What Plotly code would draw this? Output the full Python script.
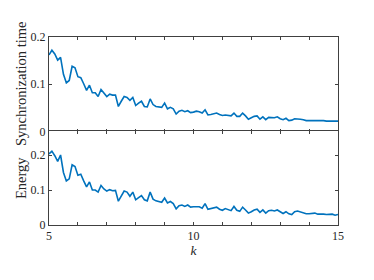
import numpy as np
import plotly.graph_objects as go

k = [round(5 + 0.1 * i, 1) for i in range(101)]

sync_time = [
    0.162, 0.172, 0.164, 0.151, 0.157, 0.121, 0.103, 0.108, 0.138, 0.135,
    0.116, 0.114, 0.101, 0.087, 0.098, 0.082, 0.082, 0.074, 0.089, 0.082,
    0.074, 0.079, 0.077, 0.077, 0.053, 0.064, 0.074, 0.072, 0.066, 0.072,
    0.055, 0.060, 0.064, 0.053, 0.052, 0.069, 0.057, 0.053, 0.052, 0.051,
    0.060, 0.048, 0.051, 0.048, 0.037, 0.043, 0.045, 0.042, 0.044, 0.040,
    0.041, 0.043, 0.042, 0.039, 0.046, 0.035, 0.036, 0.038, 0.039, 0.036,
    0.034, 0.035, 0.034, 0.033, 0.039, 0.032, 0.032, 0.039, 0.033, 0.026,
    0.029, 0.032, 0.033, 0.026, 0.031, 0.025, 0.030, 0.030, 0.029, 0.031,
    0.027, 0.025, 0.028, 0.023, 0.024, 0.027, 0.027, 0.026, 0.025, 0.023,
    0.023, 0.023, 0.024, 0.023, 0.023, 0.023, 0.022, 0.022, 0.022, 0.021,
    0.022,
]

energy = [
    0.203, 0.211, 0.198, 0.182, 0.200, 0.150, 0.126, 0.132, 0.172, 0.167,
    0.142, 0.145, 0.126, 0.109, 0.123, 0.100, 0.100, 0.094, 0.113, 0.103,
    0.097, 0.101, 0.098, 0.099, 0.068, 0.082, 0.097, 0.094, 0.082, 0.094,
    0.072, 0.078, 0.084, 0.072, 0.069, 0.094, 0.074, 0.069, 0.068, 0.065,
    0.077, 0.063, 0.067, 0.061, 0.046, 0.055, 0.057, 0.053, 0.057, 0.051,
    0.052, 0.053, 0.052, 0.048, 0.061, 0.045, 0.047, 0.049, 0.051, 0.045,
    0.042, 0.047, 0.043, 0.041, 0.053, 0.042, 0.039, 0.051, 0.043, 0.034,
    0.038, 0.043, 0.045, 0.036, 0.043, 0.034, 0.041, 0.042, 0.040, 0.043,
    0.038, 0.033, 0.038, 0.032, 0.030, 0.038, 0.040, 0.037, 0.036, 0.032,
    0.032, 0.032, 0.034, 0.031, 0.032, 0.031, 0.030, 0.030, 0.031, 0.028,
    0.030,
]

x_ticks = list(range(5, 16))
x_ticktext = ["5", "", "", "", "", "10", "", "", "", "", "15"]
y_ticks = [0, 0.1, 0.2]
y_ticktext = ["0", "0.1", "0.2"]

FONT = "Liberation Serif"
AX = "#404040"
TXT = "#262626"
LINE = "#0072BD"

H_PLOT = 188.0
W_PLOT = 289.0
half = 0.5 / H_PLOT
ytitle_x = -28.0 / W_PLOT

fig = go.Figure()
fig.add_trace(go.Scatter(x=k, y=sync_time, mode="lines", xaxis="x", yaxis="y",
                         line=dict(color=LINE, width=1.6), showlegend=False))
fig.add_trace(go.Scatter(x=k, y=energy, mode="lines", xaxis="x2", yaxis="y2",
                         line=dict(color=LINE, width=1.6), showlegend=False))

common_x = dict(range=[5, 15], tickvals=x_ticks, ticks="inside", ticklen=3,
                tickcolor=AX, showline=True, linecolor=AX, linewidth=1,
                mirror="ticks", showgrid=False, zeroline=False, automargin=False,
                tickfont=dict(family=FONT, size=12, color=TXT))
common_y = dict(tickvals=y_ticks, ticktext=y_ticktext, ticks="inside", ticklen=3,
                tickcolor=AX, showline=True, linecolor=AX, linewidth=1,
                mirror="ticks", showgrid=False, zeroline=False, automargin=False,
                tickfont=dict(family=FONT, size=12, color=TXT))

fig.update_layout(
    xaxis=dict(**common_x, anchor="y", domain=[0, 1], showticklabels=False),
    yaxis=dict(**common_y, anchor="x", domain=[0.5 - half, 1], range=[0, 0.2]),
    xaxis2=dict(**common_x, anchor="y2", domain=[0, 1], ticktext=x_ticktext,
                title=dict(text="<i>k</i>", font=dict(family=FONT, size=13.5, color=TXT),
                           standoff=2)),
    yaxis2=dict(**common_y, anchor="x2", domain=[0, 0.5 + half], range=[0, 0.27]),
    width=374, height=280,
    margin=dict(l=41, r=44, t=29, b=63),
    paper_bgcolor="white", plot_bgcolor="white",
    font=dict(family=FONT, color=TXT),
    annotations=[
        dict(text="Synchronization time", xref="paper", yref="paper",
             x=ytitle_x, y=0.75, xanchor="center", yanchor="middle",
             textangle=-90, showarrow=False,
             font=dict(family=FONT, size=14.5, color=TXT)),
        dict(text="Energy", xref="paper", yref="paper",
             x=ytitle_x, y=0.25, xanchor="center", yanchor="middle",
             textangle=-90, showarrow=False,
             font=dict(family=FONT, size=14.5, color=TXT)),
    ],
)

fig.write_html("out.html")
